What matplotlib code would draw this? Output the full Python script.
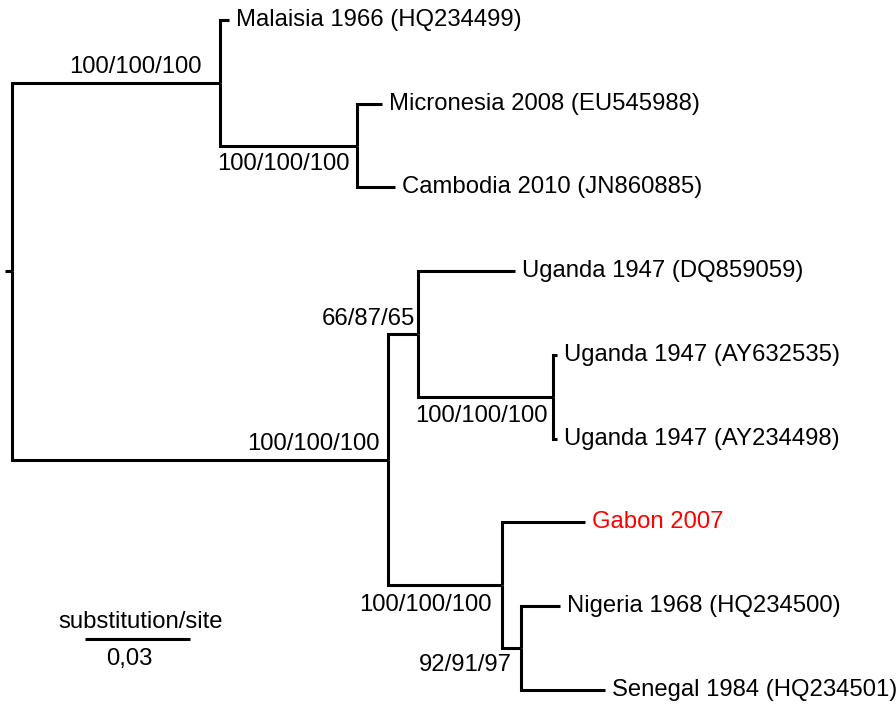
import matplotlib.pyplot as plt

plt.rcParams['font.family'] = ['Liberation Sans', 'DejaVu Sans']

# tip labels, top to bottom
tips = ['Malaisia 1966 (HQ234499)', 'Micronesia 2008 (EU545988)', 'Cambodia 2010 (JN860885)',
        'Uganda 1947 (DQ859059)', 'Uganda 1947 (AY632535)', 'Uganda 1947 (AY234498)',
        'Gabon 2007', 'Nigeria 1968 (HQ234500)', 'Senegal 1984 (HQ234501)']

# edges of the tree: parent, child, branch length (substitution/site)
edges = [
    ('base', 'root', 0.0020),
    ('root', 'n1', 0.0594),
    ('n1', tips[0], 0.0025),
    ('n1', 'n2', 0.0391),
    ('n2', tips[1], 0.0072),
    ('n2', tips[2], 0.0110),
    ('root', 'n3', 0.1074),
    ('n3', 'n4', 0.0086),
    ('n4', tips[3], 0.0277),
    ('n4', 'n5', 0.0386),
    ('n5', tips[4], 0.0012),
    ('n5', tips[5], 0.0010),
    ('n3', 'n6', 0.0326),
    ('n6', tips[6], 0.0237),
    ('n6', 'n7', 0.0054),
    ('n7', tips[7], 0.0111),
    ('n7', tips[8], 0.0240),
]

# bootstrap / support values on internal nodes
support = {'n1': '100/100/100', 'n2': '100/100/100', 'n3': '100/100/100',
           'n4': '66/87/65', 'n5': '100/100/100', 'n6': '100/100/100',
           'n7': '92/91/97'}
scale_len = 0.03
scale_label = '0,03'
scale_title = 'substitution/site'

# label placement (offset pixels from node)
support_off = {'n1': (-18, 16), 'n2': (-7, -18), 'n3': (-8, 16), 'n4': (-3, 15),
               'n5': (-5, -19), 'n6': (-10, -20), 'n7': (-9, -17)}

# compute node coordinates
children = {}
for p, c, l in edges:
    children.setdefault(p, []).append(c)

xpos = {'base': 0.0}
for p, c, l in edges:
    xpos[c] = xpos[p] + l

ypos = {t: i for i, t in enumerate(tips)}


def get_y(n):
    if n not in ypos:
        ys = [get_y(c) for c in children[n]]
        ypos[n] = sum(ys) / len(ys)
    return ypos[n]


get_y('base')

fig = plt.figure(figsize=(8.96, 7.04), dpi=100)
ax = fig.add_axes([0, 0, 1, 1])

fs = 17.2
lw = 2.2
for p, c, l in edges:
    ax.plot([xpos[p], xpos[p], xpos[c]], [ypos[p], ypos[c], ypos[c]],
            color='black', lw=lw, solid_joinstyle='miter', solid_capstyle='butt')

for i, t in enumerate(tips):
    col = 'red' if t.startswith('Gabon') else 'black'
    ax.annotate(t, (xpos[t], ypos[t]), xytext=(7, 0), textcoords='offset pixels',
                ha='left', va='center', fontsize=fs, color=col)

for n, s in support.items():
    dx, dy = support_off[n]
    ax.annotate(s, (xpos[n], ypos[n]), xytext=(dx, dy), textcoords='offset pixels',
                ha='right', va='center', fontsize=fs)

# scale bar
sx = 0.0229
sy = 7.391
ax.plot([sx, sx + scale_len], [sy, sy], color='black', lw=lw, solid_capstyle='butt')
ax.annotate(scale_title, (sx + scale_len / 2, sy), xytext=(3, 17), textcoords='offset pixels',
            ha='center', va='center', fontsize=fs)
ax.annotate(scale_label, (sx + scale_len / 2, sy), xytext=(-8, -20), textcoords='offset pixels',
            ha='center', va='center', fontsize=fs)

ax.set_xlim(-5 / 3500, 891 / 3500)
ax.set_ylim((704 - 20) / 83.75, -20 / 83.75)
ax.axis('off')

plt.savefig('out.png', dpi=100)
